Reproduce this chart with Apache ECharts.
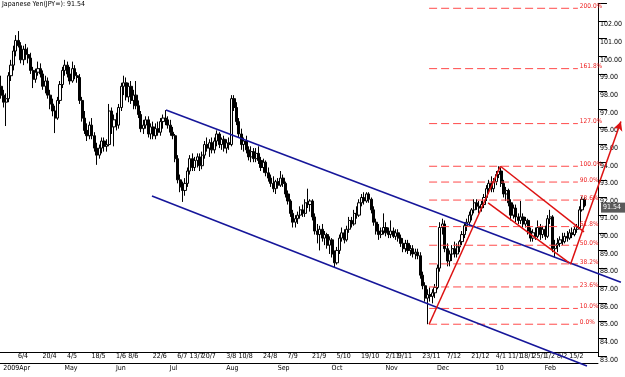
<!DOCTYPE html>
<html>
<head>
<meta charset="utf-8">
<title>Japanese Yen (JPY=)</title>
<script src="https://cdn.jsdelivr.net/npm/echarts@6/dist/echarts.min.js"></script>
<style>
  html, body { margin: 0; padding: 0; background: #fff; }
  #chart { width: 625px; height: 377px; }
</style>
</head>
<body>
<div id="chart"></div>
<script>
// Daily USD/JPY bars, weekdays from 27 Mar 2009. Rows are [open, high, low, close]
const firstDay = '2009-03-27';
const slotCount = 244;
const bars = [
  [98.3, 98.9, 97.6, 97.8], [97.8, 98.1, 97.1, 97.4], [97.4, 97.9, 96.05, 97.6], [97.6, 99.1, 97.4, 98.9],
  [98.9, 99.8, 98.6, 99.5], [99.5, 100.6, 99.2, 100.3], [100.3, 101.2, 100.0, 100.9], [100.9, 101.43, 100.5, 100.6],
  [100.6, 100.8, 99.6, 99.8], [99.8, 100.6, 99.5, 100.4], [100.4, 100.7, 99.8, 100.1], [100.1, 100.5, 99.6, 99.9],
  [99.9, 100.2, 99.0, 99.2], [99.2, 99.4, 98.2, 98.7], [98.7, 99.3, 98.5, 99.1], [99.1, 99.7, 98.9, 99.3],
  [99.3, 99.6, 98.8, 99.0], [99.0, 99.2, 98.1, 98.3], [98.3, 98.9, 97.9, 98.6], [98.6, 98.8, 97.6, 97.8],
  [97.8, 98.1, 97.0, 97.3], [97.3, 97.6, 96.6, 96.9], [96.9, 97.2, 95.65, 96.5], [96.5, 97.7, 96.4, 97.5],
  [97.5, 98.6, 97.3, 98.4], [98.4, 99.4, 98.2, 99.2], [99.2, 99.8, 98.9, 99.5], [99.5, 99.7, 98.8, 99.0],
  [99.0, 99.4, 98.4, 98.6], [98.6, 99.7, 98.5, 99.3], [99.3, 99.5, 98.7, 98.9], [98.9, 99.1, 98.5, 98.8],
  [98.8, 99.0, 97.3, 97.5], [97.5, 97.7, 96.3, 96.5], [96.5, 96.9, 95.6, 95.8], [95.8, 96.2, 95.2, 95.5],
  [95.5, 96.3, 95.3, 96.1], [96.1, 96.5, 95.3, 95.5], [95.5, 95.7, 94.6, 94.8], [94.8, 95.1, 93.85, 94.4],
  [94.4, 95.0, 94.2, 94.8], [94.8, 95.4, 94.5, 95.2], [95.2, 95.4, 94.6, 94.9], [94.9, 95.3, 94.6, 95.0],
  [95.0, 97.3, 94.9, 96.9], [96.9, 97.1, 95.6, 96.0], [96.0, 96.7, 94.9, 96.4], [96.4, 96.8, 95.8, 96.1],
  [96.1, 97.3, 95.9, 97.1], [97.1, 98.5, 96.9, 98.3], [98.3, 98.9, 97.8, 98.5], [98.5, 98.8, 97.5, 97.7],
  [97.7, 98.5, 97.4, 98.3], [98.3, 98.6, 97.3, 97.5], [97.5, 98.1, 97.0, 97.8], [97.8, 98.6, 97.0, 97.2],
  [97.2, 97.5, 96.5, 96.7], [96.7, 96.9, 95.7, 95.9], [95.9, 96.4, 95.6, 96.1], [96.1, 96.6, 95.9, 96.4],
  [96.4, 96.6, 95.4, 95.6], [95.6, 96.2, 95.3, 96.0], [96.0, 96.3, 95.3, 95.5], [95.5, 96.2, 95.3, 95.9],
  [95.9, 96.3, 95.5, 95.7], [95.7, 96.5, 95.5, 96.3], [96.3, 96.7, 95.9, 96.5], [96.5, 96.95, 96.1, 96.4],
  [96.4, 96.6, 95.9, 96.1], [96.1, 96.4, 95.5, 95.7], [95.7, 96.0, 95.3, 95.5], [95.5, 95.6, 94.0, 94.2],
  [94.2, 94.4, 92.8, 93.0], [93.0, 93.3, 92.3, 92.6], [92.6, 92.9, 91.75, 92.4], [92.4, 93.1, 92.1, 92.8],
  [92.8, 93.7, 92.6, 93.5], [93.5, 94.4, 93.3, 94.2], [94.2, 94.5, 93.5, 93.7], [93.7, 94.3, 93.5, 94.1],
  [94.1, 94.5, 93.7, 94.3], [94.3, 94.5, 93.5, 93.8], [93.8, 94.6, 93.6, 94.4], [94.4, 95.2, 94.2, 95.0],
  [95.0, 95.4, 94.6, 94.8], [94.8, 95.3, 94.3, 95.1], [95.1, 95.4, 94.5, 94.7], [94.7, 95.4, 94.5, 95.2],
  [95.2, 95.8, 94.9, 95.6], [95.6, 95.7, 94.8, 95.0], [95.0, 95.4, 94.7, 95.3], [95.3, 95.5, 94.6, 94.8],
  [94.8, 95.3, 94.5, 95.1], [95.1, 95.4, 94.7, 95.0], [95.0, 97.8, 94.9, 97.6], [97.6, 97.8, 96.9, 97.1],
  [97.1, 97.4, 96.1, 96.3], [96.3, 96.5, 95.4, 95.6], [95.6, 95.9, 94.7, 95.0], [95.0, 95.4, 94.6, 95.2],
  [95.2, 95.5, 94.5, 94.7], [94.7, 94.9, 94.1, 94.3], [94.3, 94.9, 94.0, 94.6], [94.6, 94.8, 94.0, 94.2],
  [94.2, 94.8, 94.0, 94.5], [94.5, 94.9, 93.9, 94.1], [94.1, 94.3, 93.5, 93.7], [93.7, 94.2, 93.4, 94.0],
  [94.0, 94.1, 93.2, 93.4], [93.4, 93.7, 92.9, 93.1], [93.1, 93.3, 92.6, 92.8], [92.8, 93.2, 92.3, 92.5],
  [92.5, 93.0, 92.2, 92.9], [92.9, 93.1, 92.5, 92.7], [92.7, 93.5, 92.6, 93.1], [93.1, 93.3, 92.6, 92.8],
  [92.8, 92.9, 92.0, 92.2], [92.2, 92.4, 91.6, 91.8], [91.8, 91.9, 90.9, 91.1], [91.1, 91.3, 90.3, 90.6],
  [90.6, 91.0, 90.3, 90.8], [90.8, 91.2, 90.5, 91.0], [91.0, 91.5, 90.8, 91.3], [91.3, 91.6, 90.9, 91.1],
  [91.1, 91.9, 90.9, 91.7], [91.7, 92.5, 91.4, 91.6], [91.6, 91.9, 91.2, 91.8], [91.8, 91.9, 90.7, 90.9],
  [90.9, 91.1, 89.9, 90.1], [90.1, 90.5, 89.4, 89.9], [89.9, 90.4, 89.0, 90.2], [90.2, 90.5, 89.5, 89.7],
  [89.7, 90.1, 89.3, 89.9], [89.9, 90.0, 89.1, 89.3], [89.3, 89.8, 88.8, 89.6], [89.6, 89.7, 88.6, 88.8],
  [88.8, 89.0, 88.05, 88.3], [88.3, 89.2, 88.2, 89.0], [89.0, 89.9, 88.8, 89.7], [89.7, 90.3, 89.5, 90.0],
  [90.0, 90.2, 89.4, 89.6], [89.6, 90.4, 89.5, 90.2], [90.2, 90.9, 90.0, 90.7], [90.7, 90.9, 90.3, 90.5],
  [90.5, 91.3, 90.4, 91.1], [91.1, 91.5, 90.8, 91.0], [91.0, 91.9, 90.9, 91.7], [91.7, 92.2, 91.5, 92.0],
  [92.0, 92.3, 91.6, 91.8], [91.8, 92.3, 91.7, 92.2], [92.2, 92.3, 91.7, 91.9], [91.9, 92.0, 91.1, 91.3],
  [91.3, 91.5, 90.4, 90.6], [90.6, 90.8, 89.9, 90.1], [90.1, 90.5, 89.6, 89.9], [89.9, 90.3, 89.7, 90.1],
  [90.1, 91.1, 89.9, 90.3], [90.3, 90.6, 89.8, 90.0], [90.0, 90.3, 89.7, 89.9], [89.9, 90.7, 89.7, 90.1],
  [90.1, 90.3, 89.7, 89.8], [89.8, 90.2, 89.6, 90.0], [90.0, 90.2, 89.5, 89.7], [89.7, 89.9, 89.2, 89.4],
  [89.4, 89.7, 88.9, 89.1], [89.1, 89.6, 88.9, 89.4], [89.4, 89.6, 88.8, 89.0], [89.0, 89.3, 88.7, 89.1],
  [89.1, 89.3, 88.6, 88.8], [88.8, 89.1, 88.5, 88.9], [88.9, 89.1, 88.5, 88.7], [88.7, 88.9, 87.4, 87.6],
  [87.6, 87.8, 86.8, 87.0], [87.0, 87.2, 86.1, 86.3], [86.3, 86.8, 84.82, 86.5], [86.5, 86.9, 86.1, 86.4],
  [86.4, 86.8, 86.0, 86.6], [86.6, 87.1, 86.3, 86.9], [86.9, 88.2, 86.8, 88.0], [88.0, 90.6, 87.8, 90.3],
  [90.3, 90.8, 89.9, 90.5], [90.5, 90.7, 88.9, 89.1], [89.1, 89.4, 88.1, 88.4], [88.4, 89.0, 88.1, 88.8],
  [88.8, 89.3, 88.4, 89.1], [89.1, 89.5, 88.6, 88.8], [88.8, 89.4, 88.6, 89.2], [89.2, 89.6, 88.9, 89.5],
  [89.5, 90.1, 89.3, 89.9], [89.9, 90.6, 89.7, 90.4], [90.4, 90.8, 90.1, 90.6], [90.6, 91.2, 90.4, 91.0],
  [91.0, 91.4, 90.7, 91.3], [91.3, 91.9, 91.1, 91.7], [91.7, 91.9, 91.3, 91.5], [91.5, 91.8, 91.1, 91.4],
  [91.4, 91.8, 91.2, 91.6], [91.6, 92.2, 91.4, 92.0], [92.0, 92.7, 91.8, 92.5], [92.5, 93.0, 92.2, 92.8],
  [92.8, 93.2, 92.3, 92.5], [92.5, 93.1, 92.3, 92.9], [92.9, 93.5, 92.7, 93.3], [93.3, 93.77, 93.1, 93.5],
  [93.5, 93.7, 92.6, 92.8], [92.8, 93.0, 92.0, 92.2], [92.2, 92.6, 91.8, 92.4], [92.4, 92.5, 91.5, 91.7],
  [91.7, 91.9, 90.7, 91.0], [91.0, 91.6, 90.8, 91.4], [91.4, 91.6, 90.6, 90.9], [90.9, 91.1, 90.5, 90.7],
  [90.7, 91.8, 90.5, 90.9], [90.9, 91.1, 90.3, 90.5], [90.5, 90.9, 90.3, 90.7], [90.7, 90.8, 89.9, 90.1],
  [90.1, 90.3, 89.5, 89.7], [89.7, 90.2, 89.5, 90.0], [90.0, 90.3, 89.6, 89.8], [89.8, 90.7, 89.7, 90.3],
  [90.3, 90.5, 89.6, 89.9], [89.9, 90.4, 89.7, 90.2], [90.2, 90.4, 89.6, 89.8], [89.8, 91.0, 89.7, 90.8],
  [90.8, 91.3, 90.5, 90.9], [90.9, 91.0, 88.9, 89.1], [89.1, 89.6, 88.6, 89.3], [89.3, 89.7, 88.9, 89.4],
  [89.4, 89.8, 89.2, 89.6], [89.6, 90.0, 89.3, 89.5], [89.5, 90.0, 89.4, 89.8], [89.8, 90.1, 89.5, 89.7],
  [89.7, 90.2, 89.6, 90.0], [90.0, 90.3, 89.7, 89.9], [89.9, 90.4, 89.8, 90.2], [90.2, 90.5, 90.0, 90.3],
  [90.3, 91.5, 90.2, 91.3], [91.3, 92.05, 91.2, 91.9], [91.9, 92.0, 91.45, 91.54]
];

const dayTicks = ['2009-04-06', '2009-04-20', '2009-05-04', '2009-05-18', '2009-06-01', '2009-06-08',
  '2009-06-22', '2009-07-06', '2009-07-13', '2009-07-20', '2009-08-03', '2009-08-10', '2009-08-24',
  '2009-09-07', '2009-09-21', '2009-10-05', '2009-10-19', '2009-11-02', '2009-11-09', '2009-11-23',
  '2009-12-07', '2009-12-21', '2010-01-04', '2010-01-11', '2010-01-18', '2010-01-25', '2010-02-01',
  '2010-02-08', '2010-02-15'];
const monthDates = ['2009-03-27', '2009-05-01', '2009-06-01', '2009-07-01', '2009-08-03', '2009-09-01',
  '2009-10-01', '2009-11-02', '2009-12-01', '2010-01-04', '2010-02-01'];
const monthNames = ['2009Apr', 'May', 'Jun', 'Jul', 'Aug', 'Sep', 'Oct', 'Nov', 'Dec', '10', 'Feb'];

// fibonacci retracement from the Nov low to the Jan high
const fibLow = 84.82;
const fibHigh = 93.77;
const fibLevels = [0, 10, 23.6, 38.2, 50, 61.8, 78.6, 90, 100, 127, 161.8, 200];
const fibFrom = 174;
const fibTo = 234.5;

// hand drawn trend lines, [bar index, price]
const blueUpper = [[67, 96.96], [252, 87.2]];
const blueLower = [[61.3, 92.08], [238.2, 82.45]];
const redUp = [[174, 84.82], [203, 93.77]];
const redChannelTop = [[203, 93.77], [237, 90.05]];
const redChannelBottom = [[198, 91.7], [231, 88.3]];
const redArrow = [[231.5, 88.2], [252, 96.3]];

const lastPrice = 91.54;

// weekday calendar for the category axis
const dates = [];
let d = new Date(firstDay + 'T00:00:00Z');
while (dates.length < slotCount) {
  const wd = d.getUTCDay();
  if (wd !== 0 && wd !== 6) dates.push(d.toISOString().slice(0, 10));
  d.setUTCDate(d.getUTCDate() + 1);
}
const daySet = new Set(dayTicks);
const monthMap = {};
monthDates.forEach((m, i) => { monthMap[m] = monthNames[i]; });

const FONT = "'Liberation Sans Narrow', 'DejaVu Sans Condensed', 'Liberation Sans', sans-serif";
const PX = 17.65;          // pixels per yen
const TOP = 3.35;          // y of 103.00
const RED = '#dd1111';
const BLUE = '#16169a';

const chart = echarts.init(document.getElementById('chart'), null, { renderer: 'canvas' });

function seg(points, color, width) {
  return {
    type: 'line', xAxisIndex: 2, yAxisIndex: 1, data: points, symbol: 'none',
    clip: false, silent: true, animation: false,
    lineStyle: { color: color, width: width }
  };
}

const series = [{
  type: 'candlestick',
  xAxisIndex: 0, yAxisIndex: 0,
  data: bars.map(b => [b[0], b[3], b[2], b[1]]),
  barWidth: 2.6,
  itemStyle: { color: '#ffffff', color0: '#000000', borderColor: '#000000', borderColor0: '#000000', borderWidth: 1 },
  animation: false
}];

fibLevels.forEach(p => {
  const v = fibLow + (fibHigh - fibLow) * p / 100;
  series.push({
    type: 'line', xAxisIndex: 2, yAxisIndex: 1, symbol: 'none', silent: true, clip: false, animation: false,
    data: [[fibFrom, v], [fibTo, v]],
    lineStyle: { color: '#ff4a4a', width: 1, type: [8, 4] },
    endLabel: { show: true, formatter: p.toFixed(1) + '%', color: '#ee2020', fontSize: 6.5, fontFamily: FONT, distance: 2, offset: [0, -2] }
  });
});

series.push(seg(blueUpper, BLUE, 1.6));
series.push(seg(blueLower, BLUE, 1.6));
series.push(seg(redUp, RED, 1.5));
series.push(seg(redChannelTop, RED, 1.5));
series.push(seg(redChannelBottom, RED, 1.5));
series.push({
  type: 'line', xAxisIndex: 2, yAxisIndex: 1, data: [], silent: true, animation: false,
  markLine: {
    silent: true, animation: false, symbol: ['none', 'arrow'], symbolSize: [7, 9],
    label: { show: false },
    lineStyle: { color: RED, width: 1.5, type: 'solid' },
    data: [[{ coord: redArrow[0] }, { coord: redArrow[1] }]]
  }
});

const option = {
  animation: false,
  backgroundColor: '#ffffff',
  grid: [
    { left: 0, top: TOP, width: 600, height: 20 * PX },
    { left: 0, top: TOP, width: 625, height: 21 * PX }
  ],
  xAxis: [
    {
      type: 'category', gridIndex: 0, data: dates, boundaryGap: true, position: 'bottom', offset: -4,
      axisLine: { lineStyle: { color: '#000', width: 1 } },
      axisTick: { interval: (i, v) => daySet.has(v), alignWithLabel: true, length: 6, lineStyle: { color: '#000' } },
      axisLabel: {
        interval: (i, v) => daySet.has(v), align: 'left', margin: 0, padding: [0, 0, 0, 2],
        fontSize: 7, fontFamily: FONT, color: '#000',
        formatter: v => { const p = v.split('-'); return (+p[2]) + '/' + (+p[1]); }
      },
      splitLine: { show: false }
    },
    {
      type: 'category', gridIndex: 0, data: dates, boundaryGap: true, position: 'bottom', offset: 7,
      axisLine: { lineStyle: { color: '#000', width: 1 } },
      axisTick: { interval: (i, v) => v in monthMap, alignWithLabel: true, length: 7, lineStyle: { color: '#000' } },
      axisLabel: {
        interval: (i, v) => v in monthMap, align: 'left', margin: 1, padding: [0, 0, 0, 2],
        fontSize: 7, fontFamily: FONT, color: '#000',
        formatter: v => monthMap[v] || ''
      },
      splitLine: { show: false }
    },
    {
      type: 'value', gridIndex: 1, min: -0.5, max: -0.5 + 625 * slotCount / 600, show: false
    }
  ],
  yAxis: [
    {
      type: 'value', gridIndex: 0, position: 'right', min: 83, max: 103, interval: 1, scale: true,
      axisLine: { show: true, lineStyle: { color: '#000', width: 1 } },
      axisTick: { show: true, length: 9, lineStyle: { color: '#000' } },
      axisLabel: {
        margin: 2, fontSize: 7, fontFamily: FONT, color: '#000', verticalAlign: 'top',
        formatter: v => (v > 102.5 ? '' : v.toFixed(2))
      },
      splitLine: { show: false }
    },
    { type: 'value', gridIndex: 1, min: 82, max: 103, show: false }
  ],
  series: series
};

chart.setOption(option);

// title and last price marker
const py = chart.convertToPixel({ yAxisIndex: 0 }, lastPrice);
chart.setOption({
  graphic: [
    {
      type: 'text', left: 2, top: 1, silent: true,
      style: { text: 'Japanese Yen(JPY=): ' + lastPrice.toFixed(2), fontSize: 7, fontFamily: FONT, fill: '#000' }
    },
    {
      type: 'rect', silent: true, shape: { x: 601, y: py - 3, width: 24, height: 10 },
      style: { fill: '#5a5a5a' }
    },
    {
      type: 'text', silent: true, x: 603, y: py - 2,
      style: { text: lastPrice.toFixed(2), fontSize: 7, fontFamily: FONT, fill: '#ffffff' }
    }
  ]
});
</script>
</body>
</html>
